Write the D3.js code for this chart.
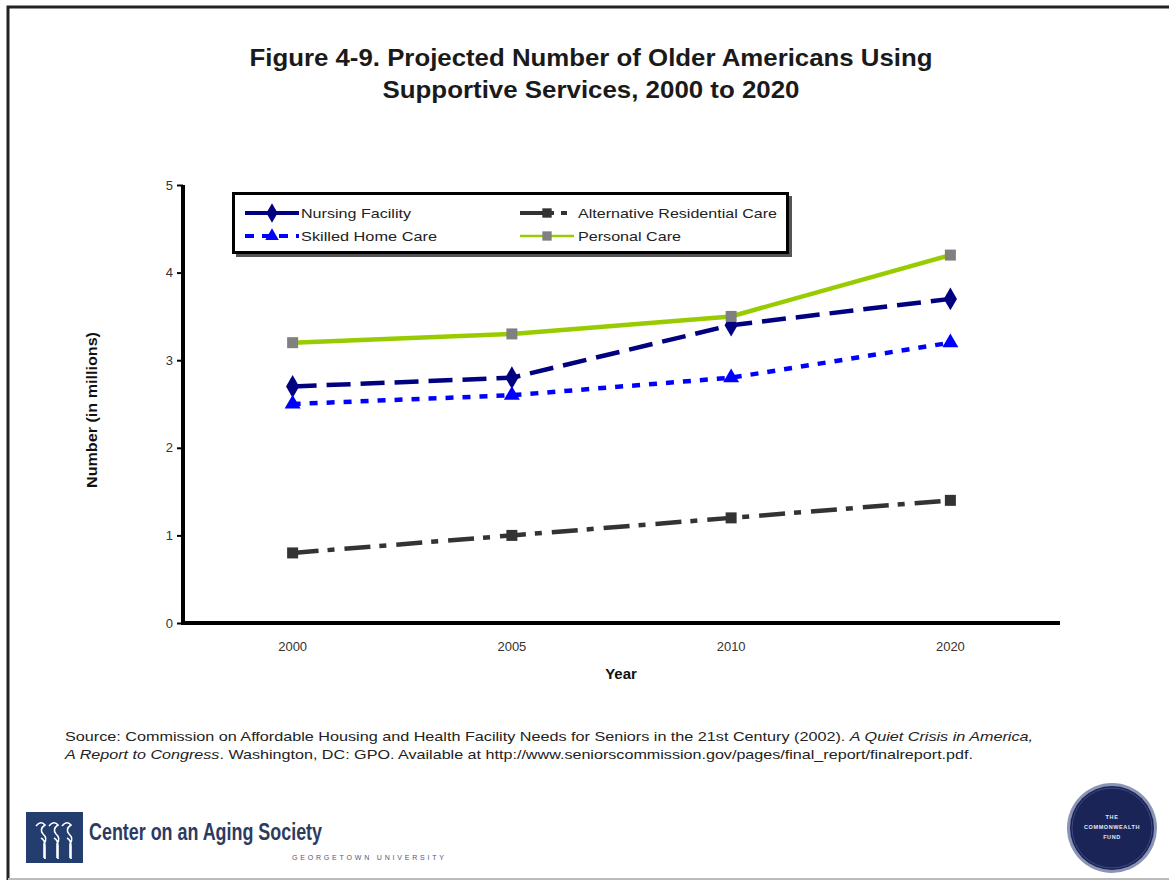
<!DOCTYPE html>
<html>
<head>
<meta charset="utf-8">
<script src="https://cdn.jsdelivr.net/npm/d3@7"></script>
<style>
  html, body { margin: 0; padding: 0; background: #fff; }
  svg { display: block; }
</style>
</head>
<body>
<svg id="chart" width="1169" height="882"></svg>
<script>
// ---- data ----
const years = ["2000", "2005", "2010", "2020"];
const nursingFacility = [2.7, 2.8, 3.4, 3.7];
const skilledHomeCare = [2.5, 2.6, 2.8, 3.2];
const alternativeResidentialCare = [0.8, 1.0, 1.2, 1.4];
const personalCare = [3.2, 3.3, 3.5, 4.2];
const yTicks = [0, 1, 2, 3, 4, 5];
const seriesNames = ["Nursing Facility", "Skilled Home Care", "Alternative Residential Care", "Personal Care"];

const series = [
  { name: seriesNames[0], values: nursingFacility, color: "#000080", dash: "24,10", marker: "diamond", mcolor: "#000080" },
  { name: seriesNames[1], values: skilledHomeCare, color: "#0000FF", dash: "8,9", marker: "triangle", mcolor: "#0000FF" },
  { name: seriesNames[2], values: alternativeResidentialCare, color: "#333333", dash: "26,9,7,10", marker: "square", mcolor: "#333333" },
  { name: seriesNames[3], values: personalCare, color: "#99CC00", dash: null, marker: "square", mcolor: "#808080" }
];

const svg = d3.select("#chart");
const font = "'Liberation Sans', Arial, sans-serif";
const narrow = "'Liberation Sans Narrow', 'Liberation Sans', Arial, sans-serif";

// outer frame
svg.append("path")
  .attr("d", "M8,880 L8,7 L1175,7")
  .attr("fill", "none").attr("stroke", "#222").attr("stroke-width", 3);
svg.append("line").attr("x1", 8).attr("x2", 1169).attr("y1", 879).attr("y2", 879)
  .attr("stroke", "#bbb").attr("stroke-width", 2);

// title
svg.append("text").attr("x", 591).attr("y", 66).attr("text-anchor", "middle")
  .attr("font-family", font).attr("font-weight", "bold").attr("font-size", 24).attr("fill", "#1a1a1a")
  .attr("textLength", 683).attr("lengthAdjust", "spacingAndGlyphs")
  .text("Figure 4-9. Projected Number of Older Americans Using");
svg.append("text").attr("x", 591).attr("y", 98).attr("text-anchor", "middle")
  .attr("font-family", font).attr("font-weight", "bold").attr("font-size", 24).attr("fill", "#1a1a1a")
  .attr("textLength", 417).attr("lengthAdjust", "spacingAndGlyphs")
  .text("Supportive Services, 2000 to 2020");

// scales
const x = d3.scaleBand().domain(years).range([183, 1060]).paddingInner(0).paddingOuter(0);
const y = d3.scaleLinear().domain([0, 5]).range([623, 185]);
const cx = d => x(d) + x.bandwidth() / 2;

// y axis
const yAxis = svg.append("g").attr("transform", "translate(183,0)")
  .call(d3.axisLeft(y).tickValues(yTicks).tickSize(6).tickPadding(4).tickFormat(d3.format("d")));
yAxis.select(".domain").attr("stroke", "#000").attr("stroke-width", 4).attr("d", "M0,185 V623");
yAxis.selectAll(".tick line").attr("stroke", "#000").attr("stroke-width", 2);
yAxis.selectAll(".tick text").attr("font-family", narrow).attr("font-size", 13).attr("fill", "#333");

// x axis
const xAxis = svg.append("g").attr("transform", "translate(0,623)")
  .call(d3.axisBottom(x).tickSize(0).tickPadding(19));
xAxis.select(".domain").attr("stroke", "#000").attr("stroke-width", 4).attr("d", "M181,0 H1060");
xAxis.selectAll(".tick text").attr("font-family", narrow).attr("font-size", 13).attr("fill", "#333");

// axis titles
svg.append("text").attr("transform", "translate(97,410) rotate(-90)").attr("text-anchor", "middle")
  .attr("font-family", narrow).attr("font-weight", "bold").attr("font-size", 15).attr("fill", "#111")
  .attr("textLength", 156).attr("lengthAdjust", "spacingAndGlyphs")
  .text("Number (in millions)");
svg.append("text").attr("x", 621).attr("y", 679).attr("text-anchor", "middle")
  .attr("font-family", narrow).attr("font-weight", "bold").attr("font-size", 15).attr("fill", "#111")
  .text("Year");

// markers
function drawMarker(g, type, color, px, py, scale) {
  scale = scale || 1;
  if (type === "diamond") {
    g.append("path").attr("d", d3.symbol().type(d3.symbolDiamond).size(150 * scale * scale)())
      .attr("transform", `translate(${px},${py})`).attr("fill", color);
  } else if (type === "triangle") {
    g.append("path").attr("d", d3.symbol().type(d3.symbolTriangle).size(110 * scale * scale)())
      .attr("transform", `translate(${px},${py})`).attr("fill", color);
  } else {
    const s = 11 * scale;
    g.append("rect").attr("x", px - s / 2).attr("y", py - s / 2).attr("width", s).attr("height", s).attr("fill", color);
  }
}

// lines
const line = d3.line().x((d, i) => cx(years[i])).y(d => y(d));
const plot = svg.append("g");
series.forEach(s => {
  plot.append("path").datum(s.values)
    .attr("d", line).attr("fill", "none").attr("stroke", s.color).attr("stroke-width", 4.5)
    .attr("stroke-dasharray", s.dash);
});
series.forEach(s => {
  s.values.forEach((v, i) => drawMarker(plot, s.marker, s.mcolor, cx(years[i]), y(v)));
});

// legend
const lg = svg.append("g");
lg.append("rect").attr("x", 236).attr("y", 196).attr("width", 556).attr("height", 61).attr("fill", "#555");
lg.append("rect").attr("x", 233.5).attr("y", 193.5).attr("width", 554).attr("height", 59)
  .attr("fill", "#fff").attr("stroke", "#000").attr("stroke-width", 3);
const legendPos = [
  { lx: 245, ly: 213, tl: 110 }, { lx: 245, ly: 236, tl: 136 }, { lx: 520, ly: 213, tl: 199 }, { lx: 520, ly: 236, tl: 103 }
];
series.forEach((s, i) => {
  const p = legendPos[i];
  const x1 = p.lx, x2 = p.lx + 54, mx = p.lx + 27;
  let dash = null;
  if (i === 1) dash = "9,8";
  if (i === 2) dash = "34,7,6,10";
  lg.append("line").attr("x1", x1).attr("x2", x2).attr("y1", p.ly).attr("y2", p.ly)
    .attr("stroke", s.color).attr("stroke-width", i === 3 ? 2.5 : 4).attr("stroke-dasharray", dash);
  drawMarker(lg, s.marker, s.mcolor, mx, p.ly, 0.85);
  lg.append("text").attr("x", i < 2 ? 301 : 578).attr("y", p.ly + 4.5)
    .attr("font-family", narrow).attr("font-size", 13.5).attr("fill", "#222")
    .attr("textLength", p.tl).attr("lengthAdjust", "spacingAndGlyphs")
    .text(s.name);
});

// source
const src1 = svg.append("text").attr("x", 65).attr("y", 741)
  .attr("font-family", narrow).attr("font-size", 13).attr("fill", "#222")
  .attr("textLength", 968).attr("lengthAdjust", "spacingAndGlyphs");
src1.append("tspan").text("Source: Commission on Affordable Housing and Health Facility Needs for Seniors in the 21st Century (2002). ");
src1.append("tspan").attr("font-style", "italic").text("A Quiet Crisis in America,");
const src2 = svg.append("text").attr("x", 65).attr("y", 759)
  .attr("font-family", narrow).attr("font-size", 13).attr("fill", "#222")
  .attr("textLength", 908).attr("lengthAdjust", "spacingAndGlyphs");
src2.append("tspan").attr("font-style", "italic").text("A Report to Congress");
src2.append("tspan").text(". Washington, DC: GPO. Available at http://www.seniorscommission.gov/pages/final_report/finalreport.pdf.");

// Center on an Aging Society logo
const logo = svg.append("g");
logo.append("rect").attr("x", 26).attr("y", 812).attr("width", 57).attr("height", 51).attr("fill", "#233d6e");
[0, 1, 2].forEach(k => {
  const ox = 36 + k * 13;
  logo.append("path")
    .attr("d", `M${ox},826 q5,-6 9,-1 q-6,4 -2,9 q5,4 1,10 l0,14 M${ox + 5},838 q4,2 4,8 l0,13`)
    .attr("fill", "none").attr("stroke", "#fff").attr("stroke-width", 1.6);
});
logo.append("text").attr("x", 89).attr("y", 840)
  .attr("font-family", narrow).attr("font-weight", "bold").attr("font-size", 24).attr("fill", "#2c3b61")
  .attr("textLength", 233).attr("lengthAdjust", "spacingAndGlyphs")
  .text("Center on an Aging Society");
logo.append("text").attr("x", 292).attr("y", 860)
  .attr("font-family", font).attr("font-size", 7).attr("fill", "#4a5a80")
  .attr("textLength", 152).attr("lengthAdjust", "spacing")
  .text("GEORGETOWN UNIVERSITY");

// Commonwealth Fund seal
const seal = svg.append("g").attr("transform", "translate(1112,828)");
seal.append("circle").attr("r", 45).attr("fill", "#8a94b4");
seal.append("circle").attr("r", 42).attr("fill", "#1b2457");
seal.append("circle").attr("r", 40).attr("fill", "none").attr("stroke", "#3d4a80").attr("stroke-width", 1);
[["THE", -9], ["COMMONWEALTH", 1], ["FUND", 11]].forEach(([t, dy]) => {
  seal.append("text").attr("y", dy).attr("text-anchor", "middle")
    .attr("font-family", font).attr("font-size", 5.5).attr("font-weight", "bold").attr("fill", "#e8e8f0")
    .attr("letter-spacing", 0.6).text(t);
});
</script>
</body>
</html>
